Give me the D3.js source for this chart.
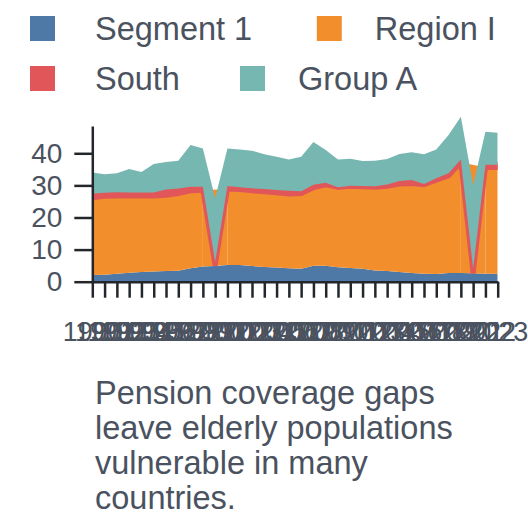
<!DOCTYPE html>
<html lang="en">
<head>
<meta charset="UTF-8">
<title>Pension coverage gaps</title>
<script src="https://d3js.org/d3.v7.min.js"></script>
<style>
    body { margin: 0; background: #fff; }
    svg { display: block; font-family: "Liberation Sans", Arial, sans-serif; }
    .axis path, .axis line { stroke: #23272b; stroke-width: 2.5px; }
    .axis text { fill: #4a5260; }
    .x.axis text { font-size: 27px; }
    .y.axis text { font-size: 28px; }
    .legend text, .caption text { fill: #4a5260; font-size: 32.5px; }
</style>
</head>
<body>
<script>
    const years = [1990, 1991, 1992, 1993, 1994, 1995, 1996, 1997, 1998, 1999,
                   2000, 2001, 2002, 2003, 2004, 2005, 2006, 2007, 2008, 2009,
                   2010, 2011, 2012, 2013, 2014, 2015, 2016, 2017, 2018, 2019,
                   2020, 2021, 2022, 2023];

    const segment1 = [2.1, 2.2, 2.5, 2.8, 3.0, 3.2, 3.3, 3.4, 4.2, 4.7,
                      4.9, 5.2, 5.2, 4.9, 4.6, 4.4, 4.2, 4.0, 5.0, 5.0,
                      4.5, 4.3, 4.0, 3.5, 3.3, 3.0, 2.7, 2.5, 2.4, 2.7,
                      2.7, 2.6, 2.5, 2.5];
    // two years have no Region I figure
    const regionI = [24.1, 24.4, 24.2, 23.9, 23.7, 23.5, 23.6, 24.1, 24.1, 23.8,
                     null, 23.7, 23.5, 23.4, 23.4, 23.3, 23.1, 23.5, 24.3, 25.2,
                     24.9, 25.4, 25.6, 25.9, 26.4, 27.4, 27.9, 27.7, 29.2, 30.3,
                     34.5, null, 33.1, 33.1];
    const south = [1.3, 1.1, 1.2, 1.1, 1.1, 1.1, 1.8, 1.5, 1.3, 1.1,
                   1.3, 0.9, 0.7, 0.8, 0.9, 0.9, 1.0, 0.7, 0.9, 0.6,
                   0.0, 0.2, 0.2, 0.3, 0.6, 1.0, 1.1, 0.2, 0.6, 0.8,
                   0.9, 1.5, 0.8, 0.8];
    const groupA = [6.5, 5.8, 5.9, 7.3, 6.4, 8.9, 8.6, 8.7, 13.0, 11.9,
                    19.8, 11.7, 11.8, 11.7, 10.8, 10.3, 9.8, 10.7, 13.3, 10.2,
                    8.7, 8.4, 7.8, 8.0, 7.9, 8.4, 8.6, 9.3, 9.0, 11.9,
                    13.3, 26.0, 10.3, 10.0];

    const seriesNames = ["Segment 1", "Region I", "South", "Group A"];
    const seriesColors = ["#4e79a7", "#f28e2b", "#e15759", "#76b7b2"];
    const yTicks = [0, 10, 20, 30, 40];
    const yMax = 48.5;
    const caption = ["Pension coverage gaps", "leave elderly populations",
                     "vulnerable in many", "countries."];

    const rows = years.map((yr, i) => ({
        year: yr,
        "Segment 1": segment1[i],
        "Region I": regionI[i],
        "South": south[i],
        "Group A": groupA[i]
    }));

    const width = 528, height = 528;
    const plot = { left: 92.3, right: 497.7, top: 126, bottom: 281.7 };

    const svg = d3.select("body").append("svg")
        .attr("width", width)
        .attr("height", height);

    const x = d3.scalePoint()
        .domain(years)
        .range([plot.left, plot.right]);

    const y = d3.scaleLinear()
        .domain([0, yMax])
        .range([plot.bottom, plot.top]);

    const color = d3.scaleOrdinal().domain(seriesNames).range(seriesColors);

    // keep strokes inside the x range, the top stays open
    svg.append("clipPath").attr("id", "plot-clip")
        .append("rect")
        .attr("x", plot.left).attr("y", 0)
        .attr("width", plot.right - plot.left)
        .attr("height", plot.bottom);

    // missing values count as zero in the stack
    const stacked = d3.stack().keys(seriesNames)(rows);

    const area = d3.area()
        .x(d => x(d.data.year))
        .y0(d => y(d[0]))
        .y1(d => y(d[1]));

    const g = svg.append("g").attr("clip-path", "url(#plot-clip)");

    stacked.forEach(s => {
        if (s.key === "Region I") {
            // drawn where defined, then bridged across the missing years
            g.append("path")
                .attr("fill", color(s.key))
                .attr("d", area.defined(d => d.data[s.key] != null)(s));
            area.defined(() => true);
            s.forEach((d, i) => {
                if (d.data[s.key] == null && i > 0 && i < s.length - 1) {
                    g.append("path")
                        .attr("fill", color(s.key))
                        .attr("d", area([s[i - 1], s[i + 1]]));
                }
            });
        } else {
            g.append("path")
                .attr("fill", color(s.key))
                .attr("stroke", s.key === "South" ? color(s.key) : null)
                .attr("stroke-width", s.key === "South" ? 5 : null)
                .attr("d", area(s));
        }
    });

    svg.append("g")
        .attr("class", "x axis")
        .attr("transform", `translate(0,${plot.bottom})`)
        .call(d3.axisBottom(x).tickSize(16).tickSizeOuter(0).tickPadding(24));

    svg.append("g")
        .attr("class", "y axis")
        .attr("transform", `translate(${plot.left},0)`)
        .call(d3.axisLeft(y).tickValues(yTicks).tickSize(18).tickSizeOuter(0).tickPadding(12));

    svg.selectAll(".axis").attr("font-family", null).attr("font-size", null);

    // legend, two items per row; item width guessed from the label length
    const legend = svg.append("g").attr("class", "legend");
    const rowY = [16, 66];
    const charWidth = 0.6 * 32;
    seriesNames.forEach((name, i) => {
        const row = Math.floor(i / 2);
        let textX = 95, boxX = 30;
        if (i % 2 === 1) {
            textX = 95 + seriesNames[i - 1].length * charWidth + 107;
            boxX = textX - 58;
        }
        legend.append("rect")
            .attr("x", boxX).attr("y", rowY[row])
            .attr("width", 25).attr("height", 25)
            .attr("fill", color(name));
        legend.append("text")
            .attr("x", textX)
            .attr("y", rowY[row] + 24)
            .text(name);
    });

    svg.append("g").attr("class", "caption")
        .selectAll("text")
        .data(caption)
        .join("text")
        .attr("x", 95)
        .attr("y", (d, i) => 404 + i * 35)
        .text(d => d);
</script>
</body>
</html>
